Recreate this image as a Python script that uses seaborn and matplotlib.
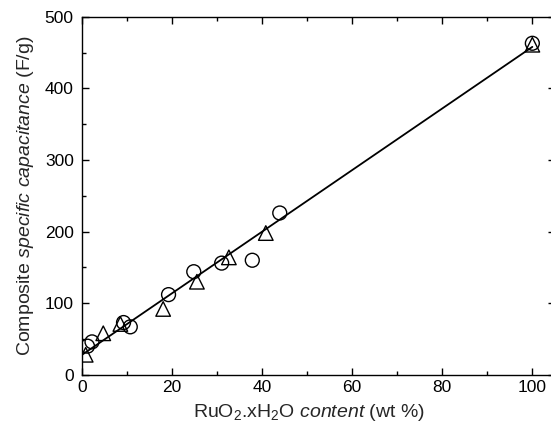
import numpy as np
import pandas as pd
import matplotlib
matplotlib.use("Agg")
import matplotlib.pyplot as plt
import seaborn as sns
from matplotlib.ticker import MultipleLocator

sns.set_style("ticks")
plt.rcParams['font.family'] = ['Liberation Sans', 'DejaVu Sans']
plt.rcParams['mathtext.fontset'] = 'custom'
plt.rcParams['mathtext.rm'] = 'Liberation Sans'
plt.rcParams['mathtext.it'] = 'Liberation Sans:italic'
plt.rcParams['mathtext.bf'] = 'Liberation Sans:bold'

circle_x = [1.2, 2.2, 9.2, 10.7, 19.2, 24.8, 31.0, 37.8, 43.9, 100.0]
circle_y = [40, 46, 73, 67, 112, 144, 156, 160, 226, 463]
tri_x = [0.8, 4.7, 8.5, 18.0, 25.5, 32.6, 40.8, 100.0]
tri_y = [28, 58, 71, 92, 130, 164, 198, 461]
fit_x = [0, 100]
fit_y = [28, 458]

fig = plt.figure(figsize=(5.51, 4.42), dpi=100)
ax = fig.add_axes([0.149, 0.152, 0.858, 0.810])

sns.lineplot(x=fit_x, y=fit_y, ax=ax, color='black', lw=1.3)
sns.scatterplot(x=circle_x, y=circle_y, ax=ax, marker='o', s=100,
                facecolor='none', edgecolor='black', linewidth=1.0)
sns.scatterplot(x=tri_x, y=tri_y, ax=ax, marker='^', s=110,
                facecolor='none', edgecolor='black', linewidth=1.0)

ax.set_xlim(0, 105)
ax.set_ylim(0, 500)
ax.xaxis.set_major_locator(MultipleLocator(20))
ax.xaxis.set_minor_locator(MultipleLocator(10))
ax.yaxis.set_major_locator(MultipleLocator(100))
ax.yaxis.set_minor_locator(MultipleLocator(50))
ax.tick_params(which='both', direction='in', top=True, right=True,
               labelsize=12.5, colors='black')
ax.tick_params(which='major', length=5, width=1)
ax.tick_params(which='minor', length=3, width=1)
ax.tick_params(axis='y', which='major', pad=6)
for sp in ax.spines.values():
    sp.set_visible(True)
    sp.set_linewidth(1.0)
    sp.set_color('black')

ax.set_xlabel(r'RuO$_2$.xH$_2$O $\mathit{content}$ (wt %)', fontsize=14, labelpad=6)
ax.set_ylabel(r'Composite $\mathit{specific\ capacitance}$ (F/g)', fontsize=14, labelpad=6)
ax.xaxis.set_label_coords(0.48, -0.075)

fig.savefig('out.png', dpi=100)
